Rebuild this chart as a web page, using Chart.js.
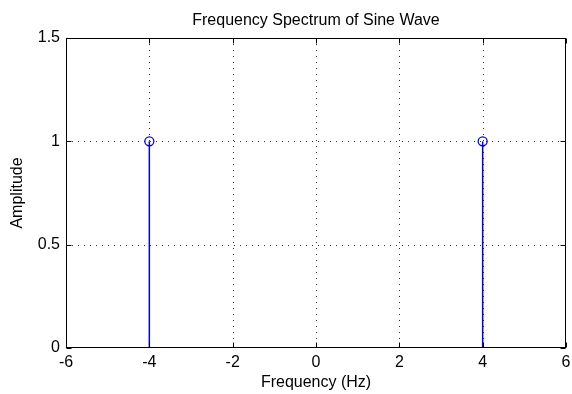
<!DOCTYPE html>
<html>
<head>
<meta charset="utf-8">
<script src="https://cdn.jsdelivr.net/npm/chart.js@4/dist/chart.umd.min.js"></script>
<style>
html,body{margin:0;padding:0;background:#fff;}
canvas{display:block;}
</style>
</head>
<body>
<canvas id="c" width="572" height="394"></canvas>
<script>
// ---- data ----
const frequencies = [-4, 4];
const amplitudes = [1, 1];
const xTickValues = [-6, -4, -2, 0, 2, 4, 6];
const yTickValues = [0, 0.5, 1, 1.5];
const titleText = 'Frequency Spectrum of Sine Wave';
const xLabel = 'Frequency (Hz)';
const yLabel = 'Amplitude';

const FONT = "'Liberation Sans', Arial, Helvetica, sans-serif";
const BLUE = '#0000ff';

const stemDatasets = frequencies.map((f, i) => ({
  type: 'line',
  data: [{x: f, y: 0}, {x: f, y: amplitudes[i]}],
  borderColor: BLUE,
  borderWidth: 1.5,
  pointRadius: 0,
  fill: false,
  showLine: true
}));

const markerDataset = {
  type: 'scatter',
  data: frequencies.map((f, i) => ({x: f, y: amplitudes[i]})),
  borderColor: BLUE,
  backgroundColor: 'rgba(0,0,0,0)',
  borderWidth: 1.3,
  pointStyle: 'circle',
  pointRadius: 4.5,
  showLine: false
};

const boxPlugin = {
  id: 'matlabBox',
  beforeDatasetsDraw(chart) {
    const ctx = chart.ctx;
    const {left, right, top, bottom} = chart.chartArea;
    const xs = chart.scales.x, ys = chart.scales.y;
    ctx.save();
    ctx.strokeStyle = 'rgba(0,0,0,0.8)';
    ctx.lineWidth = 1;
    ctx.setLineDash([1, 5]);
    xTickValues.forEach(v => {
      const px = Math.round(xs.getPixelForValue(v)) + 0.5;
      if (px <= left + 1 || px >= right - 1) return;
      ctx.beginPath(); ctx.moveTo(px, top); ctx.lineTo(px, bottom); ctx.stroke();
    });
    yTickValues.forEach(v => {
      const py = Math.round(ys.getPixelForValue(v)) + 0.5;
      if (py <= top + 1 || py >= bottom - 1) return;
      ctx.beginPath(); ctx.moveTo(left, py); ctx.lineTo(right, py); ctx.stroke();
    });
    ctx.restore();
  },
  afterDraw(chart) {
    const ctx = chart.ctx;
    const {left, right, top, bottom} = chart.chartArea;
    const xs = chart.scales.x, ys = chart.scales.y;
    const L = Math.round(left) + 0.5, R = Math.round(right) - 0.5;
    const T = Math.round(top) + 0.5, B = Math.round(bottom) - 0.5;
    ctx.save();
    ctx.strokeStyle = '#000';
    ctx.lineWidth = 1;
    ctx.setLineDash([]);
    ctx.strokeRect(L, T, R - L, B - T);
    const tl = 5;
    ctx.beginPath();
    xTickValues.forEach(v => {
      const px = Math.round(xs.getPixelForValue(v)) + 0.5;
      ctx.moveTo(px, B); ctx.lineTo(px, B - tl);
      ctx.moveTo(px, T); ctx.lineTo(px, T + tl);
    });
    yTickValues.forEach(v => {
      const py = Math.round(ys.getPixelForValue(v)) + 0.5;
      ctx.moveTo(L, py); ctx.lineTo(L + tl, py);
      ctx.moveTo(R, py); ctx.lineTo(R - tl, py);
    });
    ctx.stroke();
    // title centred over the plot area
    ctx.fillStyle = '#000';
    ctx.font = '16px ' + FONT;
    ctx.textAlign = 'center';
    ctx.textBaseline = 'alphabetic';
    ctx.fillText(titleText, (left + right) / 2, 25);
    ctx.restore();
  }
};

new Chart(document.getElementById('c'), {
  type: 'scatter',
  data: { datasets: [...stemDatasets, markerDataset] },
  options: {
    responsive: false,
    animation: false,
    events: [],
    layout: { padding: { top: 38, right: 6, bottom: 0, left: 0 } },
    plugins: {
      legend: { display: false },
      tooltip: { enabled: false },
      title: { display: false }
    },
    scales: {
      x: {
        type: 'linear',
        min: -6, max: 6,
        afterBuildTicks(scale) { scale.ticks = xTickValues.map(v => ({value: v})); },
        afterFit(scale) { scale.height = 46; scale.paddingLeft = 0; scale.paddingRight = 0; },
        grid: { display: false, drawTicks: false },
        border: { display: false },
        ticks: { color: '#000', padding: 5, maxRotation: 0, autoSkip: false,
                 font: { family: FONT, size: 16 },
                 callback: v => String(v) },
        title: { display: true, text: xLabel, color: '#000',
                 font: { family: FONT, size: 16 }, padding: { top: 0, bottom: 2 } }
      },
      y: {
        type: 'linear',
        min: 0, max: 1.5,
        afterBuildTicks(scale) { scale.ticks = yTickValues.map(v => ({value: v})); },
        afterFit(scale) { scale.width = 66; scale.paddingTop = 0; scale.paddingBottom = 0; },
        grid: { display: false, drawTicks: false },
        border: { display: false },
        ticks: { color: '#000', padding: 6, autoSkip: false,
                 font: { family: FONT, size: 16 },
                 callback: v => String(v) },
        title: { display: true, text: yLabel, color: '#000',
                 font: { family: FONT, size: 16 }, padding: { top: 8, bottom: 0 } }
      }
    }
  },
  plugins: [boxPlugin]
});
</script>
</body>
</html>
